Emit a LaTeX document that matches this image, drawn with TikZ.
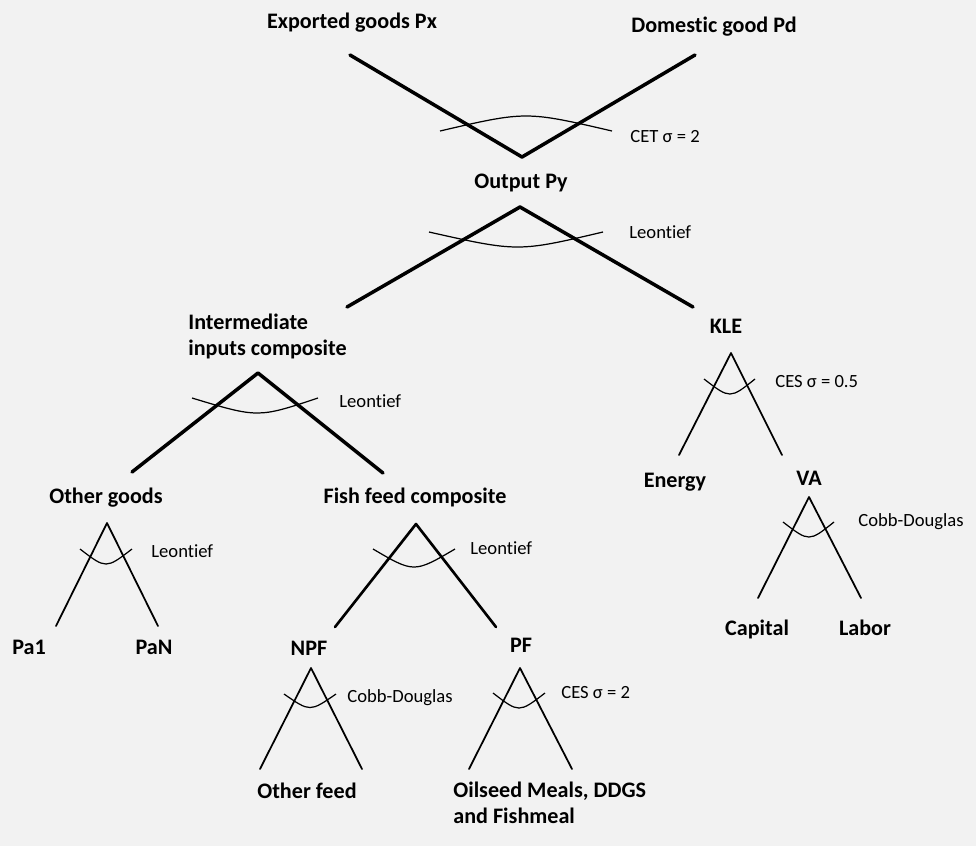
\documentclass[tikz,border=0pt]{standalone}
\usepackage{fontspec}
\setmainfont[Ligatures=NoCommon]{Carlito}
\usepackage{xcolor}
\usepackage{tikz}
\usetikzlibrary{positioning,calc}

\definecolor{paper}{HTML}{F2F2F2}

\begin{document}
\begin{tikzpicture}[x=0.02cm,y=-0.02cm]
        % Style cho nhãn và các nhánh
        \tikzstyle{good} = [font=\fontsize{12.6}{14.8}\selectfont\bfseries, inner sep=0pt, anchor=base]
        \tikzstyle{elas} = [font=\fontsize{10.6}{12.6}\selectfont, inner sep=0pt, anchor=base west]
        \tikzstyle{heavy} = [line width=2pt, line cap=round, line join=round]
        \tikzstyle{medium} = [line width=1.5pt, line cap=round, line join=round]
        \tikzstyle{light} = [line width=1pt, line cap=round, line join=round]
        \tikzstyle{nest} = [line width=0.7pt]

        % Nền xám
        \fill[paper] (0,0) rectangle (976,846);
        \useasboundingbox (0,0) rectangle (976,846);

        % Tầng trên: CET
        \node[good] (px) at (352,28) {Exported goods Px};
        \node[good] (pd) at (714,32) {Domestic good Pd};
        \node[good] (py) at (521,188) {Output Py};
        \coordinate (cetTop) at (522,157);
        \coordinate (pxEnd) at (350,55);
        \coordinate (pdEnd) at (695,55);
        \draw[heavy] (pxEnd) -- (cetTop) -- (pdEnd);
        \draw[nest] (440,131) .. controls (526,111) .. (612,131);
        \node[elas] (cet) at (630,142) {CET σ = 2};

        % Output -> Intermediate + KLE
        \coordinate (pyTop) at (520,207);
        \coordinate (intEnd) at (347,307);
        \coordinate (kleEnd) at (693,307);
        \draw[heavy] (intEnd) -- (pyTop) -- (kleEnd);
        \draw[nest] (429,232) .. controls (518,252) .. (603,232);
        \node[elas] (leoTop) at (629,238) {Leontief};

        \node[good, anchor=base west, align=left] (int) at (188,355) {Intermediate\\inputs composite};
        \node[good] (kle) at (726,333) {KLE};

        % Intermediate -> Other goods + Fish feed
        \coordinate (intTop) at (258,373);
        \coordinate (othEnd) at (132,472);
        \coordinate (fishEnd) at (383,473);
        \draw[heavy] (othEnd) -- (intTop) -- (fishEnd);
        \draw[nest] (192,398) .. controls (258,418) .. (318,398);
        \node[elas] (leoInt) at (339,407) {Leontief};

        % KLE -> Energy + VA
        \coordinate (kleTop) at (731,353);
        \coordinate (enEnd) at (679,455);
        \coordinate (vaEnd) at (782,455);
        \draw[light] (enEnd) -- (kleTop) -- (vaEnd);
        \draw[nest] (704,379) .. controls (730,399) .. (755,379);
        \node[elas] (cesKle) at (775,387) {CES σ = 0.5};

        \node[good] (en) at (675,487) {Energy};
        \node[good] (va) at (809,485) {VA};

        % VA -> Capital + Labor
        \coordinate (vaTop) at (809,497);
        \coordinate (capEnd) at (758,598);
        \coordinate (labEnd) at (861,598);
        \draw[light] (capEnd) -- (vaTop) -- (labEnd);
        \draw[nest] (783,522) .. controls (809,542) .. (834,522);
        \node[elas] (cdVa) at (858,526) {Cobb-Douglas};

        \node[good] (cap) at (757,635) {Capital};
        \node[good] (lab) at (865,635) {Labor};

        % Other goods -> Pa1 ... PaN
        \node[good] (oth) at (106,503) {Other goods};
        \coordinate (othTop) at (107,523);
        \coordinate (pa1End) at (56,626);
        \coordinate (panEnd) at (158,626);
        \draw[light] (pa1End) -- (othTop) -- (panEnd);
        \draw[nest] (80,549) .. controls (106,569) .. (132,549);
        \node[elas] (leoOth) at (151,557) {Leontief};

        \node[good] (pa1) at (29,654) {Pa1};
        \node[good] (pan) at (154,654) {PaN};

        % Fish feed -> NPF + PF
        \node[good] (fish) at (415,503) {Fish feed composite};
        \coordinate (fishTop) at (416,524);
        \coordinate (npfEnd) at (335,627);
        \coordinate (pfEnd) at (496,627);
        \draw[medium] (npfEnd) -- (fishTop) -- (pfEnd);
        \draw[nest] (373,549) .. controls (414,573) .. (455,549);
        \node[elas] (leoFish) at (470,554) {Leontief};

        \node[good] (npf) at (309,655) {NPF};
        \node[good] (pf) at (521,652) {PF};

        % NPF -> Other feed
        \coordinate (npfTop) at (311,668);
        \coordinate (ofL) at (260,769);
        \coordinate (ofR) at (362,769);
        \draw[light] (ofL) -- (npfTop) -- (ofR);
        \draw[nest] (284,694) .. controls (310,712) .. (336,694);
        \node[elas] (cdNpf) at (347,702) {Cobb-Douglas};

        % PF -> Oilseed meals
        \coordinate (pfTop) at (520,668);
        \coordinate (osL) at (469,769);
        \coordinate (osR) at (572,769);
        \draw[light] (osL) -- (pfTop) -- (osR);
        \draw[nest] (493,693) .. controls (519,713) .. (545,693);
        \node[elas] (cesPf) at (561,698) {CES σ = 2};

        \node[good] (of) at (307,798) {Other feed};
        \node[good, anchor=base west, align=left] (os) at (453,823) {Oilseed Meals, DDGS\\and Fishmeal};

    \end{tikzpicture}
\end{document}
